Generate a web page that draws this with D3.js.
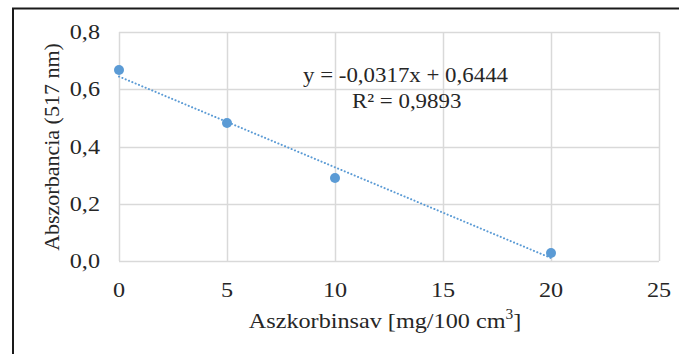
<!DOCTYPE html>
<html>
<head>
<meta charset="utf-8">
<script src="https://cdn.jsdelivr.net/npm/d3@7"></script>
<style>
  body { margin: 0; background: #fff; }
  #chart { position: relative; width: 679px; height: 354px; }
  svg { display: block; position: absolute; left: 0; top: 0; }
  .lbl {
    position: absolute;
    font-family: "Liberation Serif", "Times New Roman", serif;
    font-size: 22px;
    line-height: 22px;
    color: #262626;
    white-space: nowrap;
  }
  .sup { font-size: 14px; position: relative; top: -9px; }
</style>
</head>
<body>
<div id="chart"></div>
<script>
// measured points (ascorbic acid vs absorbance)
var xValues = [0, 5, 10, 20];
var yValues = [0.667, 0.482, 0.29, 0.028];
var xTicks = [0, 5, 10, 15, 20, 25];
var yTicks = [0, 0.2, 0.4, 0.6, 0.8];
var slope = -0.0317, intercept = 0.6444;
var eqLabel = "y = -0,0317x + 0,6444";
var r2Label = "R\u00b2 = 0,9893";

var width = 679, height = 354;
var chart = d3.select("#chart");

var svg = chart
    .append("svg")
    .attr("width", width)
    .attr("height", height);

// outer frame, runs off the right and bottom edge
svg.append("rect")
    .attr("x", 13).attr("y", 8.5)
    .attr("width", 700).attr("height", 400)
    .style("fill", "none")
    .style("stroke", "#1a1a1a")
    .style("stroke-width", 2);

var x = d3.scaleLinear().domain([0, 25]).range([119, 659]);
var y = d3.scaleLinear().domain([0, 0.8]).range([261, 32]);

var fmt = function(d){ return d3.format(".1f")(d).replace(".", ","); };

// grid
svg.append("g")
    .selectAll("line")
    .data(xTicks)
    .enter()
    .append("line")
      .attr("x1", function(d){ return Math.round(x(d)) + 0.5; })
      .attr("x2", function(d){ return Math.round(x(d)) + 0.5; })
      .attr("y1", y(0.8)).attr("y2", y(0))
      .style("stroke", "#d9d9d9")
      .style("stroke-width", 1.5);

svg.append("g")
    .selectAll("line")
    .data(yTicks)
    .enter()
    .append("line")
      .attr("x1", x(0)).attr("x2", x(25))
      .attr("y1", function(d){ return Math.round(y(d)) + 0.5; })
      .attr("y2", function(d){ return Math.round(y(d)) + 0.5; })
      .style("stroke", "#d9d9d9")
      .style("stroke-width", 1.5);

// trendline
svg.append("line")
    .attr("x1", x(0)).attr("y1", y(intercept))
    .attr("x2", x(20)).attr("y2", y(intercept + slope * 20))
    .style("stroke", "#5b9bd5")
    .style("stroke-width", 2)
    .style("stroke-linecap", "round")
    .style("stroke-dasharray", "0.1,3.5");

// points
svg.append("g")
    .selectAll("circle")
    .data(xValues)
    .enter()
    .append("circle")
      .attr("cx", function(d){ return x(d); })
      .attr("cy", function(d, i){ return y(yValues[i]); })
      .attr("r", 5)
      .style("fill", "#5b9bd5");

// labels as html over the svg; the source picture is a bit stretched sideways
var BASE = 18.4; // baseline offset inside a 22px line box
var shift = {start: "0", middle: "-50%", end: "-100%"};
var origin = {start: "0 0", middle: "50% 0", end: "100% 0"};
function label(txt, px, baseline, anchor, sx) {
  anchor = anchor || "start";
  return chart.append("div")
    .attr("class", "lbl")
    .style("left", px + "px")
    .style("top", (baseline - BASE) + "px")
    .style("transform-origin", origin[anchor])
    .style("transform", "translateX(" + shift[anchor] + ") scaleX(" + (sx || 1.1) + ")")
    .text(txt);
}

yTicks.forEach(function(d){ label(fmt(d), 100, y(d) + 7.5, "end"); });
xTicks.forEach(function(d){ label(d, x(d), 297, "middle"); });

var xt = label("", 385, 328, "middle");
xt.append("span").text("Aszkorbinsav [mg/100 cm");
xt.append("span").attr("class", "sup").text("3");
xt.append("span").text("]");

chart.append("div")
    .attr("class", "lbl")
    .style("left", "52px")
    .style("top", "147px")
    .style("transform", "translate(-50%,-50%) rotate(-90deg)")
    .text("Abszorbancia (517 nm)");

label(eqLabel, 303, 82, "start", 1.04);
label(r2Label, 352, 108, "start", 1.04);
</script>
</body>
</html>
